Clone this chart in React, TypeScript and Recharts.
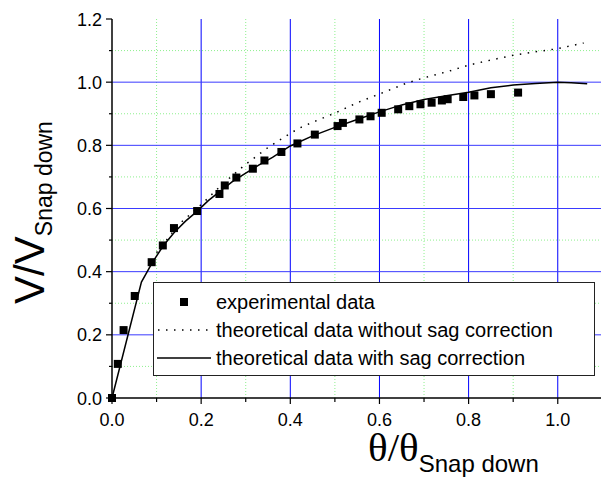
import {
  ComposedChart,
  Legend,
  Line,
  ReferenceLine,
  Scatter,
  XAxis,
  YAxis,
} from "recharts"

// measured points, theta / theta_snapdown vs V / V_snapdown
const expTheta = [
  0, 0.013, 0.026, 0.051, 0.089, 0.114, 0.139, 0.191, 0.241, 0.253, 0.279, 0.316, 0.342, 0.38, 0.416,
  0.455, 0.506, 0.518, 0.555, 0.58, 0.605, 0.642, 0.667, 0.692, 0.717, 0.74, 0.753, 0.788, 0.813, 0.85, 0.911,
]
const expV = [
  0, 0.108, 0.215, 0.323, 0.43, 0.483, 0.538, 0.592, 0.646, 0.673, 0.698, 0.726, 0.752, 0.779, 0.806,
  0.834, 0.861, 0.871, 0.882, 0.892, 0.903, 0.914, 0.924, 0.93, 0.935, 0.942, 0.946, 0.953, 0.958, 0.962, 0.967,
]

// theory with sag correction
const sagTheta = [
  0, 0.066, 0.09, 0.115, 0.14, 0.165, 0.19, 0.216, 0.242, 0.27, 0.3, 0.33, 0.36, 0.4, 0.45, 0.5, 0.55, 0.6,
  0.65, 0.7, 0.75, 0.8, 0.85, 0.9, 0.95, 1.0, 1.03, 1.066,
]
const sagV = [
  0, 0.367, 0.428, 0.482, 0.525, 0.56, 0.59, 0.625, 0.654, 0.685, 0.712, 0.738, 0.762, 0.798, 0.83, 0.857, 0.882,
  0.906, 0.928, 0.945, 0.957, 0.968, 0.982, 0.991, 0.996, 1.0, 0.998, 0.995,
]

// theory without sag correction
const noSagTheta = [
  0.1, 0.15, 0.2, 0.25, 0.3, 0.35, 0.4, 0.421, 0.45, 0.5, 0.55, 0.608, 0.661, 0.698, 0.754, 0.8, 0.85, 0.9, 0.95,
  1.0, 1.058,
]
const noSagV = [
  0.46, 0.55, 0.612, 0.68, 0.74, 0.793, 0.838, 0.855, 0.873, 0.902, 0.935, 0.967, 0.997, 1.013, 1.034, 1.054, 1.07,
  1.085, 1.096, 1.106, 1.124,
]

const xTicks = [0, 0.1, 0.2, 0.3, 0.4, 0.5, 0.6, 0.7, 0.8, 0.9, 1.0]
const yTicks = [0, 0.1, 0.2, 0.3, 0.4, 0.5, 0.6, 0.7, 0.8, 0.9, 1.0, 1.1, 1.2]
const majorX = [0.2, 0.4, 0.6, 0.8, 1.0]
const minorX = [0.1, 0.3, 0.5, 0.7, 0.9]
const majorY = [0.2, 0.4, 0.6, 0.8, 1.0]
const minorY = [0.1, 0.3, 0.5, 0.7, 0.9, 1.1]

const toPoints = (xs: number[], ys: number[]) => xs.map((x, i) => ({ x, y: ys[i] }))

const expData = toPoints(expTheta, expV)
const sagData = toPoints(sagTheta, sagV)
const noSagData = toPoints(noSagTheta, noSagV)

const SANS = "'Liberation Sans', Arial, Helvetica, sans-serif"
const SERIF = "'Liberation Serif', 'Times New Roman', serif"

const isMajor = (v: number) => Math.round(v * 10) % 2 === 0

function BottomTick(props: any) {
  const { x, y, payload } = props
  const v = payload.value
  const len = isMajor(v) ? 6 : 4
  return (
    <g>
      <line x1={x} x2={x} y1={y} y2={y + len} stroke="#000" strokeWidth={1.2} />
      {isMajor(v) && (
        <text x={x} y={y + 28} textAnchor="middle" fontFamily={SANS} fontSize={18} fill="#000">
          {v.toFixed(1)}
        </text>
      )}
    </g>
  )
}

function LeftTick(props: any) {
  const { x, y, payload } = props
  const v = payload.value
  const len = isMajor(v) ? 6 : 3
  return (
    <g>
      <line x1={x - len} x2={x} y1={y} y2={y} stroke="#000" strokeWidth={1.2} />
      {isMajor(v) && (
        <text x={x - 10} y={y + 6.5} textAnchor="end" fontFamily={SANS} fontSize={18} fill="#000">
          {v.toFixed(1)}
        </text>
      )}
    </g>
  )
}

function TopTick(props: any) {
  const { x, y, payload } = props
  const len = isMajor(payload.value) ? 6 : 4
  return <line x1={x} x2={x} y1={y} y2={y + len} stroke="#000" strokeWidth={1.2} />
}

function RightTick(props: any) {
  const { x, y, payload } = props
  const len = isMajor(payload.value) ? 6 : 4
  return <line x1={x - len} x2={x} y1={y} y2={y} stroke="#000" strokeWidth={1.2} />
}

function Square(props: any) {
  const { cx, cy } = props
  return <rect x={cx - 4} y={cy - 4} width={8} height={8} fill="#000" />
}

function YTitle() {
  return (
    <text x={43.5} y={212.5} transform="rotate(-90 43.5 212.5)" textAnchor="middle" fontFamily={SANS} fill="#000">
      <tspan fontSize={42}>V/V</tspan>
      <tspan fontSize={23} dy={8}>
        Snap down
      </tspan>
    </text>
  )
}

function XTitle() {
  return (
    <text x={368} y={461} fontFamily={SERIF} fontSize={41} fill="#000">
      θ/θ
      <tspan fontFamily={SANS} fontSize={24} dy={11}>
        Snap down
      </tspan>
    </text>
  )
}

const legendRows = [
  { key: "exp", label: "experimental data" },
  { key: "nosag", label: "theoretical data without sag correction" },
  { key: "sag", label: "theoretical data with sag correction" },
]

function LegendBox() {
  return (
    <div
      style={{
        width: 442,
        height: 94,
        boxSizing: "border-box",
        border: "1px solid #222",
        background: "#fff",
        paddingTop: 5,
        fontFamily: SANS,
        fontSize: 20,
        color: "#000",
      }}
    >
      {legendRows.map((row) => (
        <div key={row.key} style={{ display: "flex", alignItems: "center", height: 28 }}>
          <svg width={58} height={28} style={{ display: "block" }}>
            {row.key === "exp" && <rect x={26} y={10} width={8} height={8} fill="#000" />}
            {row.key === "nosag" && (
              <line x1={4} x2={56} y1={14} y2={14} stroke="#000" strokeWidth={1.5} strokeDasharray="1.5 6.5" />
            )}
            {row.key === "sag" && <line x1={3} x2={57} y1={14} y2={14} stroke="#000" strokeWidth={1.5} />}
          </svg>
          <span style={{ marginLeft: 4, lineHeight: "28px" }}>{row.label}</span>
        </div>
      ))}
    </div>
  )
}

export default function App() {
  return (
    <div style={{ position: "absolute", left: 0, top: 0, background: "#fff" }}>
      <ComposedChart width={602} height={477} margin={{ top: 19, right: 1, bottom: 0, left: 0 }}>
        {minorX.map((v) => (
          <ReferenceLine key={`mx${v}`} x={v} stroke="#8ef08e" strokeDasharray="1 2" />
        ))}
        {minorY.map((v) => (
          <ReferenceLine key={`my${v}`} y={v} stroke="#8ef08e" strokeDasharray="1 2" />
        ))}
        {majorX.map((v) => (
          <ReferenceLine key={`jx${v}`} x={v} stroke="#0000ff" strokeWidth={1} />
        ))}
        {majorY.map((v) => (
          <ReferenceLine key={`jy${v}`} y={v} stroke="#3a3aff" strokeWidth={1} />
        ))}

        <XAxis
          dataKey="x"
          type="number"
          domain={[0, 1.097]}
          ticks={xTicks}
          interval={0}
          height={79}
          tickSize={0}
          tickMargin={0}
          tickLine={false}
          axisLine={{ stroke: "#000", strokeWidth: 1.5 }}
          tick={<BottomTick />}
          label={XTitle}
        />
        <XAxis
          xAxisId="top"
          orientation="top"
          type="number"
          domain={[0, 1.097]}
          ticks={xTicks}
          interval={0}
          height={0}
          tickSize={0}
          tickMargin={0}
          tickLine={false}
          axisLine={{ stroke: "#000", strokeWidth: 1.5 }}
          tick={<TopTick />}
        />
        <YAxis
          dataKey="y"
          type="number"
          domain={[0, 1.2]}
          ticks={yTicks}
          interval={0}
          width={112}
          tickSize={0}
          tickMargin={0}
          tickLine={false}
          axisLine={{ stroke: "#000", strokeWidth: 1.5 }}
          tick={<LeftTick />}
          label={YTitle}
        />
        <YAxis
          yAxisId="right"
          orientation="right"
          type="number"
          domain={[0, 1.2]}
          ticks={yTicks}
          interval={0}
          width={0}
          tickSize={0}
          tickMargin={0}
          tickLine={false}
          axisLine={{ stroke: "#000", strokeWidth: 1.5 }}
          tick={<RightTick />}
        />

        <Line
          data={noSagData}
          dataKey="y"
          type="linear"
          stroke="#000"
          strokeWidth={1.5}
          strokeDasharray="1.5 6.5"
          dot={false}
          activeDot={false}
          isAnimationActive={false}
        />
        <Line
          data={sagData}
          dataKey="y"
          type="linear"
          stroke="#000"
          strokeWidth={1.5}
          dot={false}
          activeDot={false}
          isAnimationActive={false}
        />
        <Scatter data={expData} dataKey="y" fill="#000" shape={<Square />} isAnimationActive={false} />

        <Legend
          layout="horizontal"
          verticalAlign="middle"
          align="center"
          content={<LegendBox />}
          wrapperStyle={{ position: "absolute", left: 153, top: 282, width: 442, height: 94 }}
        />
      </ComposedChart>
    </div>
  )
}
